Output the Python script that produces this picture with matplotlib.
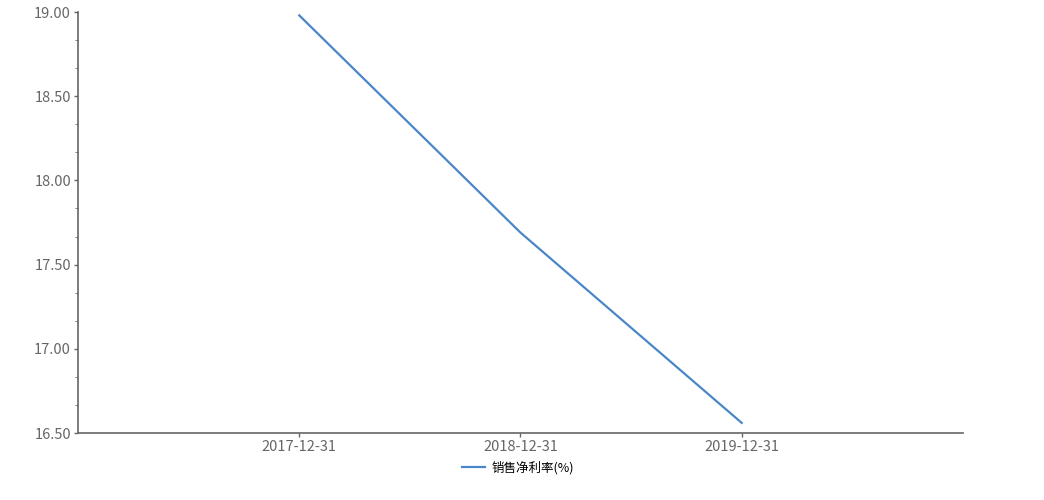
import matplotlib.pyplot as plt
from matplotlib.ticker import MultipleLocator, FormatStrFormatter

plt.rcParams['font.family'] = ['Noto Sans CJK SC', 'DejaVu Sans']

dates = ["2017-12-31", "2018-12-31", "2019-12-31"]
net_margin = [18.98, 17.69, 16.56]
series_name = "销售净利率(%)"

fig = plt.figure(figsize=(10.44, 5), dpi=100)
ax = fig.add_axes([0.0747, 0.134, 0.8477, 0.842])

x = [1, 2, 3]
ax.plot(x, net_margin, color="#4a86c8", linewidth=1.6, label=series_name)

ax.set_xlim(0, 4)
ax.set_ylim(16.5, 19.0)
ax.set_xticks(x)
ax.set_xticklabels(dates)
ax.yaxis.set_major_locator(MultipleLocator(0.5))
ax.yaxis.set_minor_locator(MultipleLocator(0.5 / 3))
ax.yaxis.set_major_formatter(FormatStrFormatter("%.2f"))

for s in ["top", "right"]:
    ax.spines[s].set_visible(False)
for s in ["left", "bottom"]:
    ax.spines[s].set_color("#666666")
    ax.spines[s].set_linewidth(1.2)

ax.tick_params(axis="both", colors="#666666", labelsize=10.5, length=3, width=1, pad=2)
ax.tick_params(axis="y", which="minor", colors="#666666", length=2)
for lbl in ax.get_xticklabels() + ax.get_yticklabels():
    lbl.set_color("#666666")

fig.legend(loc="center", bbox_to_anchor=(0.496, 0.064), frameon=False,
           fontsize=9, handlelength=1.9, handletextpad=0.5)

fig.savefig("out.png", dpi=100)
